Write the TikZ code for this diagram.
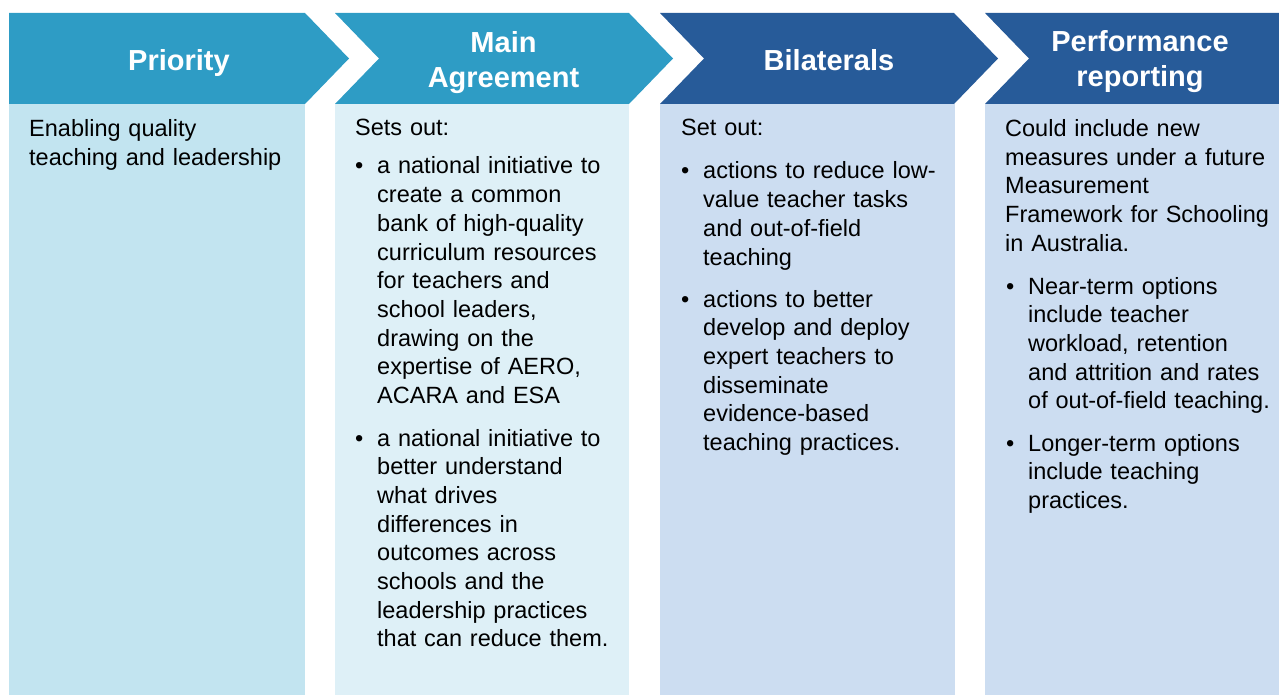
\documentclass[tikz,border=0pt]{standalone}
\usepackage{fontspec}
\setmainfont{Liberation Sans}
\definecolor{hlight}{HTML}{2E9CC5}
\definecolor{hdark}{HTML}{275B99}
\definecolor{bodyA}{HTML}{C2E4F0}
\definecolor{bodyB}{HTML}{DEF0F7}
\definecolor{bodyC}{HTML}{CCDDF1}
\begin{document}
\begin{tikzpicture}[x=1pt,y=-1pt,
  hdr/.style={text=white, font=\fontsize{29}{35}\selectfont\bfseries, align=center, text width=330pt, inner sep=0pt, anchor=base},
  body/.style={text=black, font=\fontsize{23.5}{28.7}\selectfont, align=left, text width=300pt, inner sep=0pt, anchor=base west},
  bul/.style={text=black, font=\fontsize{23.5}{28.7}\selectfont, inner sep=0pt, anchor=base west}]
\useasboundingbox (0,0) rectangle (1279,695);
% bodies
\fill[bodyA] (9,104) rectangle (305,695);
\fill[bodyB] (335,104) rectangle (629,695);
\fill[bodyC] (660,104) rectangle (955,695);
\fill[bodyC] (985,104) rectangle (1279,695);
% headers
\fill[hlight] (9,13) -- (305,13) -- (349,58.5) -- (305,104) -- (9,104) -- cycle;
\fill[hlight] (335,13) -- (629,13) -- (673,58.5) -- (629,104) -- (335,104) -- (379,58.5) -- cycle;
\fill[hdark] (660,13) -- (954,13) -- (998,58.5) -- (954,104) -- (660,104) -- (704,58.5) -- cycle;
\fill[hdark] (985,13) -- (1279,13) -- (1279,104) -- (985,104) -- (1029,58.5) -- cycle;
% header texts
\node[hdr] (h1) at (179,71) {Priority};
\node[hdr] (h2) at (503.5,52.5) {Main\\Agreement};
\node[hdr] (h3) at (829,70.5) {Bilaterals};
\node[hdr] (h4) at (1140,52) {Performance\\reporting};
% column 1
\node[body] (t1) at (29,137) {Enabling quality\\teaching and leadership};
% column 2
\node[body] (t2) at (355,136) {Sets out:};
\node[bul] (b2a) at (355,174) {•};
\node[body] (t2a) at (377,174) {a national initiative to\\create a common\\bank of high-quality\\curriculum resources\\for teachers and\\school leaders,\\drawing on the\\expertise of AERO,\\ACARA and ESA};
\node[bul] (b2b) at (355,446) {•};
\node[body] (t2b) at (377,446) {a national initiative to\\better understand\\what drives\\differences in\\outcomes across\\schools and the\\leadership practices\\that can reduce them.};
% column 3
\node[body] (t3) at (681,136) {Set out:};
\node[bul] (b3a) at (681,179) {•};
\node[body] (t3a) at (703,179) {actions to reduce low-\\value teacher tasks\\and out-of-field\\teaching};
\node[bul] (b3b) at (681,307) {•};
\node[body] (t3b) at (703,307) {actions to better\\develop and deploy\\expert teachers to\\disseminate\\evidence-based\\teaching practices.};
% column 4
\node[body] (t4) at (1005,136.5) {Could include new\\measures under a future\\Measurement\\Framework for Schooling\\in Australia.};
\node[bul] (b4a) at (1006,294) {•};
\node[body] (t4a) at (1028,294) {Near-term options\\include teacher\\workload, retention\\and attrition and rates\\of out-of-field teaching.};
\node[bul] (b4b) at (1006,451) {•};
\node[body] (t4b) at (1028,451) {Longer-term options\\include teaching\\practices.};
\end{tikzpicture}
\end{document}
